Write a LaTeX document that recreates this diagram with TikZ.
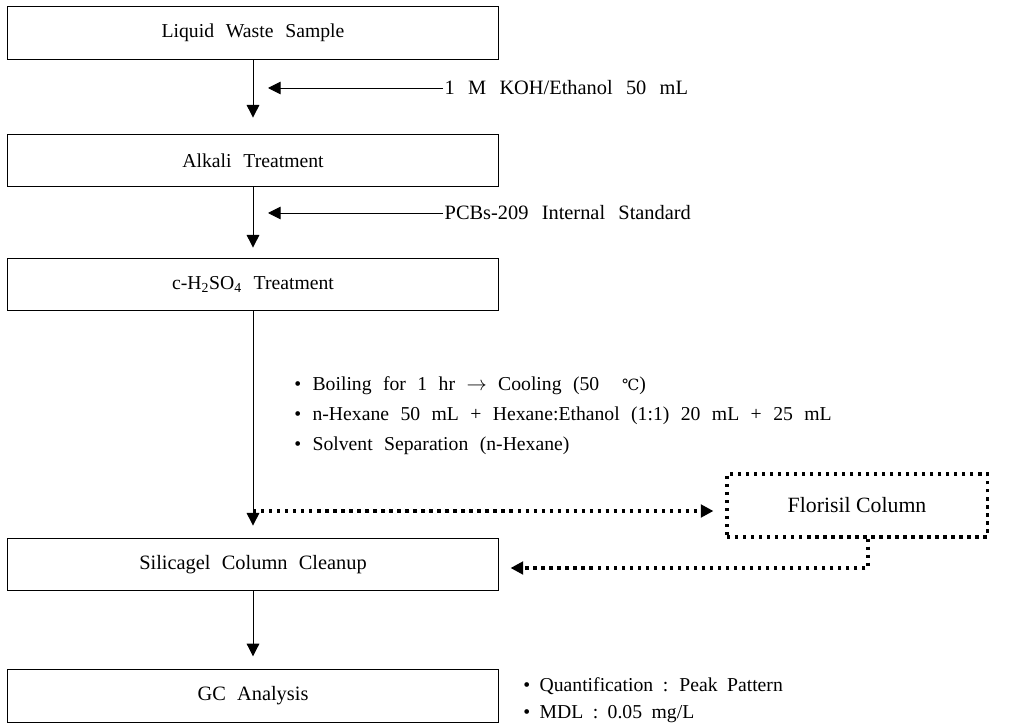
\documentclass[tikz,border=0pt]{standalone}
\usepackage{fontspec}
\setmainfont{Liberation Serif}
\newfontfamily\symfont{DejaVu Serif}
\usetikzlibrary{positioning, arrows.meta}

\newcommand\boxfont{\fontsize{14}{16}\selectfont\spaceskip=0.6em plus 0.1em\relax}
\newcommand\bigboxfont{\fontsize{14.5}{17}\selectfont\spaceskip=0.55em plus 0.1em\relax}
\newcommand\reagfont{\fontsize{14.5}{17}\selectfont\spaceskip=0.65em plus 0.1em\relax}
\newcommand\notefont{\fontsize{14}{16}\selectfont\spaceskip=0.58em plus 0.1em\relax}
\newcommand\resultfont{\fontsize{14}{16}\selectfont\spaceskip=0.48em plus 0.1em\relax}

\tikzset{
    stepbox/.style={draw, line width=0.7pt, minimum width=12.25cm, minimum height=1.32cm, inner sep=0pt},
    tip/.style={line width=0.7pt, -{Triangle[width=9pt,length=9pt]}},
    dotline/.style={line width=2.2pt, dash pattern=on 2.4pt off 3.3pt},
    dottip/.style={dotline, -{Triangle[width=9pt,length=9pt]}},
    note/.style={anchor=base west, inner sep=0pt, font=\notefont}
}

\begin{document}
\begin{tikzpicture}[x=0.025cm, y=-0.025cm]
    \useasboundingbox (0,0) rectangle (1010,727);

    % main steps
    \node[stepbox, font=\boxfont] (sample) at (253,33) {Liquid Waste Sample};
    \node[stepbox, font=\boxfont] (alkali) at (253,160.5) {Alkali Treatment};
    \node[stepbox, font=\boxfont] (acid) at (253,284.5) {c-H\textsubscript{2}SO\textsubscript{4} Treatment};
    \node[stepbox, font=\bigboxfont] (silica) at (253,564.5) {Silicagel Column Cleanup};
    \node[stepbox, font=\bigboxfont] (gc) at (253,696) {GC Analysis};
    \node[stepbox, dotline, minimum width=6.5cm, minimum height=1.575cm,
          font=\fontsize{15.5}{18}\selectfont] (florisil) at (857,505.5) {Florisil Column};

    % reagents
    \node[font=\reagfont, anchor=west, inner sep=1pt] (koh) at (443,88) {1 M KOH/Ethanol 50 mL};
    \node[font=\reagfont, anchor=west, inner sep=1pt] (pcb) at (443,213) {PCBs-209 Internal Standard};
    \coordinate (kohtip) at (268,88);
    \coordinate (pcbtip) at (268,213);

    % notes
    \node[note] (boil) at (294,390) {• Boiling for 1 hr $\rightarrow$ Cooling (50~~{\symfont\fontsize{11}{12}\selectfont ℃})};
    \node[note] (hexane) at (294,420) {• n-Hexane 50 mL + Hexane:Ethanol (1:1) 20 mL + 25 mL};
    \node[note] (solvent) at (294,450) {• Solvent Separation (n-Hexane)};
    \node[font=\resultfont, anchor=west, inner sep=0pt] (quant) at (523,686) {• Quantification : Peak Pattern};
    \node[font=\resultfont, anchor=west, inner sep=0pt] (mdl) at (523,714) {• MDL : 0.05 mg/L};

    \coordinate (split) at (253,511);
    \coordinate (back) at (868,568);

    % flow
    \draw[tip, shorten >=0.4cm] (sample) -- (alkali);
    \draw[tip, shorten >=0.25cm] (alkali) -- (acid);
    \draw[tip, shorten >=0.3cm] (acid) -- (silica);
    \draw[tip, shorten >=0.32cm] (silica) -- (gc);
    \draw[tip] (koh.west) -- (kohtip);
    \draw[tip] (pcb.west) -- (pcbtip);

    % florisil branch
    \draw[dottip, shorten >=0.3cm] (split) -- (split -| florisil.west);
    \draw[dottip, shorten >=0.3cm] (florisil.south -| back) -- (back) -- (back -| silica.east);
\end{tikzpicture}
\end{document}
